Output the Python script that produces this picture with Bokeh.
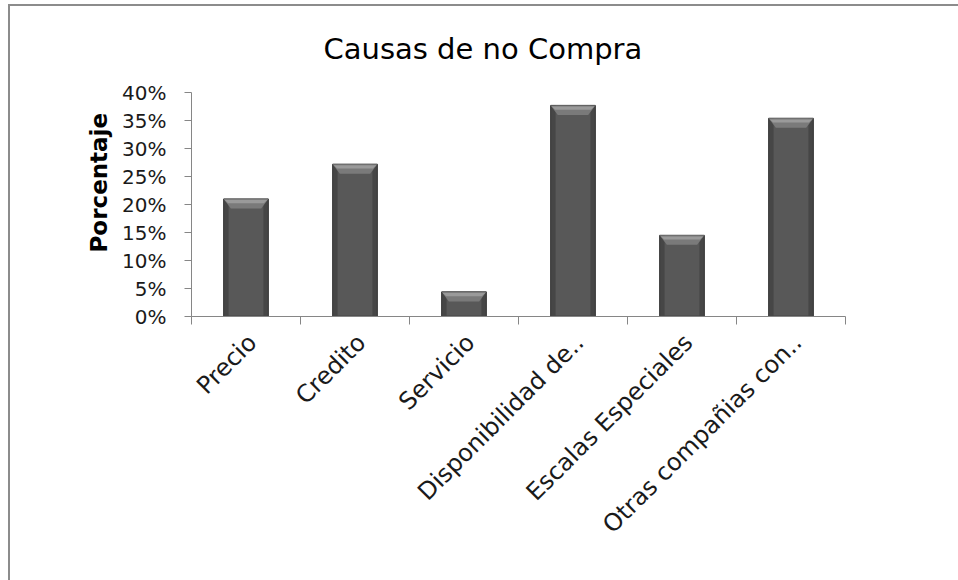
import math
import numpy as np
from bokeh.plotting import figure
from bokeh.models import Range1d, FixedTicker, NumeralTickFormatter, Title
from bokeh.embed import file_html
from bokeh.resources import INLINE

# ---- data ----
categories = ["Precio", "Credito", "Servicio", "Disponibilidad de..",
              "Escalas Especiales", "Otras compañias con.."]
values = [0.210, 0.272, 0.044, 0.377, 0.145, 0.354]
y_ticks = [0.0, 0.05, 0.10, 0.15, 0.20, 0.25, 0.30, 0.35, 0.40]
title_text = "Causas de no Compra"
y_label = "Porcentaje"

FONT = "DejaVu Sans"
AXIS_COLOR = "#868686"

n = len(categories)
xs = np.arange(n) + 0.5
vals = np.array(values)

p = figure(width=960, height=585,
           x_range=Range1d(0, n), y_range=Range1d(0, 0.40),
           output_backend="svg", toolbar_location=None,
           min_border_left=181, min_border_right=125,
           min_border_top=86, min_border_bottom=275)
p.styles = {"border-left": "2px solid #8c8c8c", "border-top": "2px solid #8c8c8c",
            "margin-left": "8px", "margin-top": "4px"}

p.title.text = title_text
p.title.text_font = FONT
p.title.text_font_size = "29px"
p.title.text_font_style = "normal"
p.title.text_color = "#000000"
p.title.align = "left"
p.title.vertical_align = "top"
p.title.offset = 132
p.title.standoff = 50

p.xgrid.visible = False
p.ygrid.visible = False
p.outline_line_color = None
p.background_fill_color = "white"
p.border_fill_color = "white"

# bars
bw = 0.41
p.vbar(x=xs, top=vals, bottom=0, width=bw, fill_color="#464646",
       line_color="#333333", line_width=1)
p.vbar(x=xs, top=vals, bottom=0.002, width=bw * 0.78, fill_color="#585858",
       line_color=None)
bev = 0.017
xs_pat = [[x - bw / 2, x + bw / 2, x + bw * 0.34, x - bw * 0.34] for x in xs]
ys_pat = [[v, v, v - bev, v - bev] for v in vals]
p.patches(xs_pat, ys_pat, fill_color="#7a7a7a", line_color=None)
xs_pat2 = [[x - bw / 2 + 0.01, x + bw / 2 - 0.01, x + bw * 0.40, x - bw * 0.40] for x in xs]
ys_pat2 = [[v - 0.002, v - 0.002, v - bev * 0.45, v - bev * 0.45] for v in vals]
p.patches(xs_pat2, ys_pat2, fill_color="#9a9a9a", line_color=None)

# y axis
yax = p.yaxis[0]
yax.ticker = FixedTicker(ticks=y_ticks, minor_ticks=[])
yax.formatter = NumeralTickFormatter(format="0%")
yax.major_label_text_font = FONT
yax.major_label_text_font_size = "20px"
yax.major_label_text_color = "#1a1a1a"
yax.major_tick_out = 7
yax.major_tick_in = 0
yax.major_tick_line_color = AXIS_COLOR
yax.axis_line_color = AXIS_COLOR
yax.major_label_standoff = 18

# x axis: boundary ticks as minor ticks, labels near centers
label_pos = list(xs + 0.06)
xax = p.xaxis[0]
xax.ticker = FixedTicker(ticks=label_pos, minor_ticks=list(range(n + 1)))
xax.major_label_overrides = {float(x): c for x, c in zip(label_pos, categories)}
xax.major_tick_line_color = None
xax.minor_tick_line_color = AXIS_COLOR
xax.minor_tick_out = 8
xax.minor_tick_in = 0
xax.axis_line_color = AXIS_COLOR
xax.major_label_orientation = math.pi / 4
xax.major_label_text_font = FONT
xax.major_label_text_font_size = "24px"
xax.major_label_text_color = "#1a1a1a"
xax.major_label_standoff = 14

ylab = Title(text=y_label, align="left", offset=64, standoff=16,
             text_font=FONT, text_font_size="23px", text_font_style="bold",
             text_color="#000000")
p.add_layout(ylab, "left")

open("out.html", "w").write(file_html(p, INLINE))
